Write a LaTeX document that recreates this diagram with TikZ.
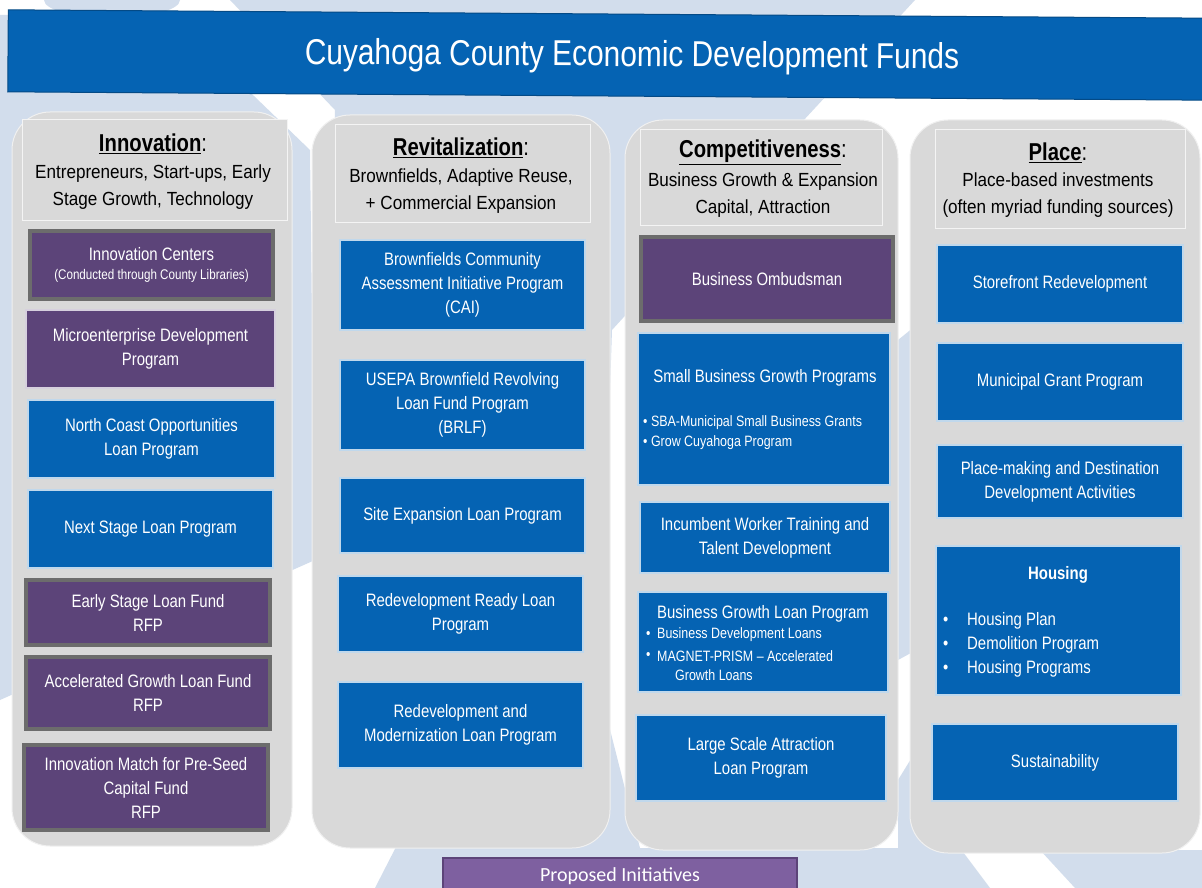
\documentclass[tikz,border=0pt]{standalone}
\usepackage{fontspec}
\setmainfont[FakeStretch=0.83]{Liberation Sans}
\newfontfamily\hdr[FakeStretch=0.9]{Liberation Sans}
\newfontfamily\calib{Carlito}
\definecolor{bgblue}{HTML}{D2DDEC}
\definecolor{boxblue}{HTML}{0563B3}
\definecolor{purp}{HTML}{5C4479}
\definecolor{purpedge}{HTML}{6C6C6C}
\definecolor{panelgrey}{HTML}{D9D9D9}
\definecolor{propurp}{HTML}{7E60A0}
\newcommand\fs[2]{\fontsize{#1}{#2}\selectfont}
\newcommand\rbox[7]{\node[#1, minimum width={(#5)-(#3)}, minimum height={(#6)-(#4)}] (#2) at ({((#3)+(#5))/2},{((#4)+(#6))/2}) {#7};}
\tikzset{
  panelbox/.style={fill=panelgrey, draw=white!60!panelgrey, line width=1pt, rounded corners=38pt},
  headbox/.style={draw=white!70!panelgrey, line width=1pt, fill=panelgrey, inner sep=0pt},
  basebox/.style={inner sep=0pt, align=center, text=white, font=\fs{18}{24}},
  bluebox/.style={basebox, fill=boxblue, draw=white!75!boxblue, line width=1.3pt},
  purpbox/.style={basebox, fill=purp, draw=purpedge, line width=4.5pt},
  purpthin/.style={basebox, fill=purp, draw=white!75!purp, line width=1.3pt},
  htitle/.style={inner sep=0pt, font=\fs{24.4}{30}},
  hsub/.style={inner sep=0pt, align=center, font=\hdr\fs{19}{27}},
  wtxt/.style={inner sep=0pt, text=white, anchor=west},
}
\begin{document}
\begin{tikzpicture}[x=1pt,y=-1pt]
\useasboundingbox (0,0) rectangle (1202,888);
% background watermark
\fill[white] (0,0) rectangle (1202,888);
\fill[bgblue] (112,0) ellipse [x radius=68, y radius=18];
\fill[bgblue] (0,15) -- (170,15) -- (310,150) -- (315,560) -- (0,700) -- cycle;
\fill[bgblue] (230,0) -- (915,0) -- (790,135) -- (612,330) -- (600,690) -- (640,848) -- (960,848) -- (990,888) -- (375,888) -- (420,800) -- (330,400) -- (335,110) -- cycle;
\fill[bgblue] (898,340) -- (935,310) -- (935,640) -- (898,660) -- cycle;
\fill[bgblue] (1040,850) -- (1202,850) -- (1202,888) -- (1075,888) -- cycle;
\fill[bgblue] (898,780) -- (935,720) -- (935,860) -- (898,860) -- cycle;

% title bar
\node[fill=boxblue, draw=boxblue!75!black, line width=1pt, minimum width=1200, minimum height=82, inner sep=0pt, rotate=-0.4] (bar) at (608,55) {};
\node[text=white, inner sep=0pt, font=\fs{36}{40}, rotate=-0.4] (title) at (632,57) {Cuyahoga County Economic Development Funds};

% panels
\rbox{panelbox}{p1}{12}{112}{292}{846}{}
\rbox{panelbox}{p2}{312}{115}{610}{848}{}
\rbox{panelbox}{p3}{625}{120}{898}{850}{}
\rbox{panelbox}{p4}{910}{120}{1200}{853}{}

% headers
\rbox{headbox}{h1}{22}{120}{287}{220}{}
\rbox{headbox}{h2}{335}{125}{590}{222}{}
\rbox{headbox}{h3}{640}{130}{882}{225}{}
\rbox{headbox}{h4}{935}{130}{1185}{228}{}
\node[htitle] (t1) at (153,144) {\textbf{\underline{Innovation}}:};
\node[hsub] (s1) at (153,187) {Entrepreneurs, Start-ups, Early\\Stage Growth, Technology};
\node[htitle] (t2) at (461,148) {\textbf{\underline{Revitalization}}:};
\node[hsub] (s2) at (461,191) {Brownfields, Adaptive Reuse,\\+ Commercial Expansion};
\node[htitle] (t3) at (763,152) {\textbf{\underline{Competitiveness}}:};
\node[hsub] (s3) at (763,195) {Business Growth \& Expansion\\Capital, Attraction};
\node[htitle] (t4) at (1058,153) {\textbf{\underline{Place}}:};
\node[hsub] (s4) at (1058,195) {Place-based investments\\(often myriad funding sources)};

% column 1
\rbox{purpbox}{c1a}{30}{231}{273}{299}{Innovation Centers\\[-5pt]{\fs{14}{20}(Conducted through County Libraries)}}
\rbox{purpthin}{c1b}{26}{310}{275}{388}{Microenterprise Development\\Program}
\rbox{bluebox}{c1c}{28}{400}{275}{478}{\fs{18}{27}North Coast Opportunities\\Loan Program}
\rbox{bluebox}{c1d}{28}{490}{273}{568}{Next Stage Loan Program}
\rbox{purpbox}{c1e}{26}{580}{270}{645}{\fs{18}{23}Early Stage Loan Fund\\RFP}
\rbox{purpbox}{c1f}{26}{657}{270}{729}{\fs{18}{23}Accelerated Growth Loan Fund\\RFP}
\rbox{purpbox}{c1g}{24}{745}{268}{830}{Innovation Match for Pre-Seed\\Capital Fund\\RFP}

% column 2
\rbox{bluebox}{c2a}{340}{240}{585}{330}{Brownfields Community\\Assessment Initiative Program\\(CAI)}
\rbox{bluebox}{c2b}{340}{360}{585}{450}{USEPA Brownfield Revolving\\Loan Fund Program\\(BRLF)}
\rbox{bluebox}{c2c}{340}{478}{585}{553}{Site Expansion Loan Program}
\rbox{bluebox}{c2d}{338}{576}{583}{652}{Redevelopment Ready Loan\\Program}
\rbox{bluebox}{c2e}{338}{682}{583}{768}{\fs{18}{27}Redevelopment and\\Modernization Loan Program}

% column 3
\rbox{purpbox}{c3a}{641}{237}{893}{321}{Business Ombudsman}
\rbox{bluebox}{c3b}{638}{333}{890}{485}{}
\node[inner sep=0pt, text=white, font=\fs{18}{24}] (c3bt) at (765,378) {Small Business Growth Programs};
\node[wtxt, font=\fs{15}{20}] (c3b1) at (643,423) {• SBA-Municipal Small Business Grants};
\node[wtxt, font=\fs{15}{20}] (c3b2) at (643,443) {• Grow Cuyahoga Program};
\rbox{bluebox}{c3c}{640}{502}{890}{573}{Incumbent Worker Training and\\Talent Development}
\rbox{bluebox}{c3d}{638}{592}{888}{692}{}
\node[inner sep=0pt, text=white, font=\fs{18}{24}] (c3dt) at (763,614) {Business Growth Loan Program};
\node[wtxt, font=\fs{15}{20}] (c3d0a) at (646,635) {•};
\node[wtxt, font=\fs{15}{20}] (c3d1) at (657,635) {Business Development Loans};
\node[wtxt, font=\fs{15}{20}] (c3d0b) at (646,656) {•};
\node[wtxt, font=\fs{15}{20}] (c3d2) at (657,656) {MAGNET-PRISM – Accelerated};
\node[wtxt, font=\fs{15}{20}] (c3d3) at (675,675) {Growth Loans};
\rbox{bluebox}{c3e}{636}{715}{886}{801}{Large Scale Attraction\\Loan Program}

% column 4
\rbox{bluebox}{c4a}{937}{245}{1183}{323}{Storefront Redevelopment}
\rbox{bluebox}{c4b}{937}{343}{1183}{421}{Municipal Grant Program}
\rbox{bluebox}{c4c}{937}{445}{1183}{518}{Place-making and Destination\\Development Activities}
\rbox{bluebox}{c4d}{936}{546}{1181}{695}{}
\node[inner sep=0pt, text=white, font=\fs{18}{24}] (c4dt) at (1058,575) {\textbf{Housing}};
\node[wtxt, font=\fs{18}{24}] (c4b0a) at (943,621) {•};
\node[wtxt, font=\fs{18}{24}] (c4d1) at (967,621) {Housing Plan};
\node[wtxt, font=\fs{18}{24}] (c4b0b) at (943,645) {•};
\node[wtxt, font=\fs{18}{24}] (c4d2) at (967,645) {Demolition Program};
\node[wtxt, font=\fs{18}{24}] (c4b0c) at (943,669) {•};
\node[wtxt, font=\fs{18}{24}] (c4d3) at (967,669) {Housing Programs};
\rbox{bluebox}{c4e}{932}{724}{1178}{801}{Sustainability}

% legend
\rbox{basebox, fill=propurp, draw=purp, line width=1.3pt}{prop}{443}{858}{797}{894}{}
\node[inner sep=0pt, text=white, font=\calib\fs{20}{24}] (propt) at (620,876) {Proposed Initiatives};
\end{tikzpicture}
\end{document}
